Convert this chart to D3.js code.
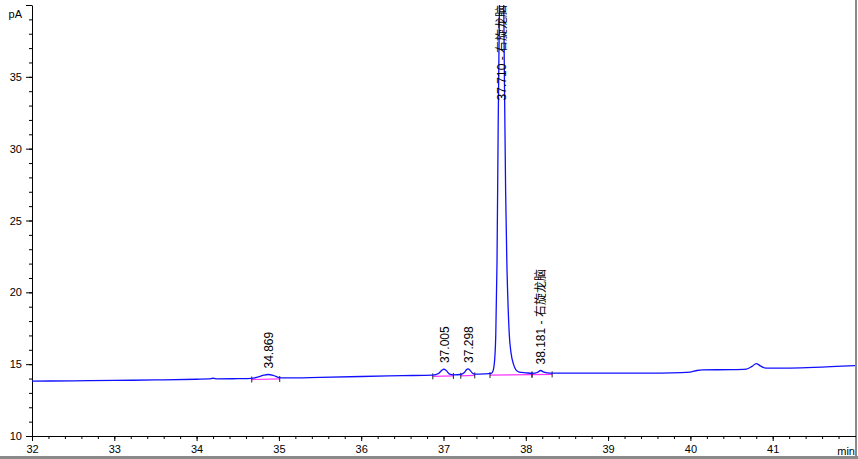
<!DOCTYPE html>
<html>
<head>
<meta charset="utf-8">
<script src="https://cdn.jsdelivr.net/npm/d3@7"></script>
<style>
  body { margin: 0; background: #fff; }
  svg { display: block; font-family: "Liberation Sans", Arial, "Noto Sans CJK SC", sans-serif; }
</style>
</head>
<body>
<div id="chart"></div>
<script>
/* Chromatogram (FID signal, pA vs min) */

/* trace: retention time (min) and signal (pA) */
const traceTime = [32.0, 32.5, 33.0, 33.5, 34.0, 34.15, 34.2, 34.25, 34.5, 34.67, 34.75, 34.82, 34.87, 34.93, 35.0, 35.05,
    35.5, 36.0, 36.5, 36.87, 36.94, 36.98, 37.005, 37.03, 37.07, 37.12, 37.21, 37.25, 37.28, 37.298, 37.32, 37.35, 37.38,
    37.5, 37.58, 37.6, 37.62, 37.635, 37.65, 37.665, 37.68, 37.695, 37.71, 37.725, 37.74, 37.755, 37.77, 37.785, 37.8,
    37.82, 37.85, 37.88, 37.92, 38.0, 38.08, 38.14, 38.181, 38.22, 38.3, 38.5, 39.0, 39.5, 40.0, 40.08, 40.15, 40.5,
    40.68, 40.75, 40.8, 40.85, 40.92, 41.0, 41.5, 42.0];
const traceSignal = [13.82, 13.84, 13.87, 13.9, 13.95, 13.97, 14.02, 13.98, 13.99, 14.01, 14.12, 14.24, 14.28, 14.22, 14.07, 14.04,
    14.08, 14.14, 14.2, 14.24, 14.35, 14.58, 14.66, 14.58, 14.33, 14.26, 14.28, 14.4, 14.62, 14.67, 14.6, 14.38, 14.3,
    14.32, 14.36, 14.5, 15.2, 17, 22, 32, 40, 45, 47, 44, 35, 27, 22, 19, 17,
    15.8, 15.0, 14.6, 14.45, 14.4, 14.36, 14.42, 14.56, 14.44, 14.37, 14.38, 14.37, 14.38, 14.45, 14.56, 14.6, 14.62,
    14.66, 14.85, 15.04, 14.88, 14.72, 14.72, 14.78, 14.9];

/* integration events: start / end time and baseline level */
const intStart = [34.67, 36.87, 37.21, 37.565, 38.075];
const intEnd = [35.01, 37.12, 37.38, 38.075, 38.32];
const baseStart = [14.0, 14.22, 14.26, 14.31, 14.34];
const baseEnd = [14.04, 14.25, 14.29, 14.34, 14.36];

/* peak labels */
const peakTime = [34.869, 37.005, 37.298, 37.710, 38.181];
const peakTop = [14.28, 14.66, 14.67, 47, 14.56];
const peakLabel = ["34.869", "37.005", "37.298", "37.710 - 右旋龙脑", "38.181 - 右旋龙脑"];

/* axis ticks */
const xMajor = [32, 33, 34, 35, 36, 37, 38, 39, 40, 41];
const yMajor = [10, 15, 20, 25, 30, 35, 40];

const width = 858,
    height = 459,
    margin = ({ top: 5, right: 3, bottom: 23, left: 32 });

let svg = d3.select("#chart")
    .append("svg")
    .attr("width", width)
    .attr("height", height)
    .attr("viewBox", [0, 0, width, height]);

let x = d3.scaleLinear()
    .domain([32, 42])
    .range([margin.left, width - margin.right]);

let y = d3.scaleLinear()
    .domain([10, 40])
    .range([height - margin.bottom, margin.top]);

/* frame lines on the right and bottom */
svg.append("line")
    .attr("x1", width - 2).attr("x2", width - 2)
    .attr("y1", 0).attr("y2", height)
    .attr("stroke", "#8a8a8a").attr("stroke-width", 2);
svg.append("line")
    .attr("x1", 0).attr("x2", width)
    .attr("y1", height - 1.5).attr("y2", height - 1.5)
    .attr("stroke", "#8a8a8a").attr("stroke-width", 3);

svg.append("clipPath")
    .attr("id", "plot")
    .append("rect")
    .attr("x", margin.left)
    .attr("y", margin.top)
    .attr("width", width - margin.right - margin.left)
    .attr("height", y(10) - margin.top);

/* minor + major ticks on both axes */
svg.append("g")
    .attr("transform", `translate(0,${y(10)})`)
    .call(d3.axisBottom(x).tickValues(d3.range(32, 41.91, 0.2)).tickSize(3).tickSizeOuter(0).tickFormat(""))
    .call(g => g.select(".domain").remove());

svg.append("g")
    .attr("transform", `translate(0,${y(10)})`)
    .call(d3.axisBottom(x).tickValues(xMajor).tickSize(5).tickSizeOuter(0).tickPadding(4))
    .call(g => g.select(".domain").attr("d", `M${margin.left},0.5H${width - 2}`))
    .call(g => g.selectAll("text").attr("font-size", 11).attr("font-family", null).attr("fill", "#000"));

svg.append("g")
    .attr("transform", `translate(${margin.left},0)`)
    .call(d3.axisLeft(y).tickValues(d3.range(10, 41, 1)).tickSize(3).tickSizeOuter(0).tickFormat(""))
    .call(g => g.select(".domain").remove());

svg.append("g")
    .attr("transform", `translate(${margin.left},0)`)
    .call(d3.axisLeft(y).tickValues(yMajor).tickSize(6).tickSizeOuter(0).tickPadding(4)
        .tickFormat(d => d === 40 ? "" : d))
    .call(g => g.selectAll("text").attr("font-size", 11).attr("font-family", null).attr("fill", "#000"));

/* unit labels */
svg.append("text")
    .text("pA")
    .attr("x", 22).attr("y", 18)
    .attr("text-anchor", "end")
    .attr("font-size", 11);

svg.append("text")
    .text("min")
    .attr("x", width - 3).attr("y", 455)
    .attr("text-anchor", "end")
    .attr("font-size", 11);

/* integration baselines (magenta) and event ticks */
let ints = d3.range(intStart.length);

svg.append("g")
    .selectAll("line")
    .data(ints)
    .join("line")
    .attr("x1", i => x(intStart[i]))
    .attr("y1", i => y(baseStart[i]) + 1)
    .attr("x2", i => x(intEnd[i]))
    .attr("y2", i => y(baseEnd[i]) + 1)
    .attr("stroke", "#ff33ff")
    .attr("stroke-width", 1.2);

let events = ints.flatMap(i => [[intStart[i], baseStart[i]], [intEnd[i], baseEnd[i]]]);

svg.append("g")
    .selectAll("line")
    .data(events)
    .join("line")
    .attr("x1", d => x(d[0]))
    .attr("x2", d => x(d[0]))
    .attr("y1", d => y(d[1]) - 2)
    .attr("y2", d => y(d[1]) + 4)
    .attr("stroke", "#222")
    .attr("stroke-width", 1);

/* the signal trace */
let line = d3.line()
    .x(i => x(traceTime[i]))
    .y(i => y(traceSignal[i]))
    .curve(d3.curveMonotoneX);

svg.append("path")
    .datum(d3.range(traceTime.length))
    .attr("clip-path", "url(#plot)")
    .attr("fill", "none")
    .attr("stroke", "#1010ff")
    .attr("stroke-width", 1.3)
    .attr("d", line);

/* peak labels, rotated; clipped peaks get their label hung from the top */
svg.append("g")
    .selectAll("text")
    .data(d3.range(peakTime.length))
    .join("text")
    .text(i => peakLabel[i])
    .attr("transform", i => peakTop[i] > 40
        ? `translate(${x(peakTime[i]) - 0.5},${margin.top}) rotate(-90)`
        : `translate(${x(peakTime[i]) + 0.5},${y(peakTop[i]) - 6}) rotate(-90)`)
    .attr("text-anchor", i => peakTop[i] > 40 ? "end" : "start")
    .attr("dy", "0.35em")
    .attr("font-size", 12)
    .attr("fill", "#000");
</script>
</body>
</html>
